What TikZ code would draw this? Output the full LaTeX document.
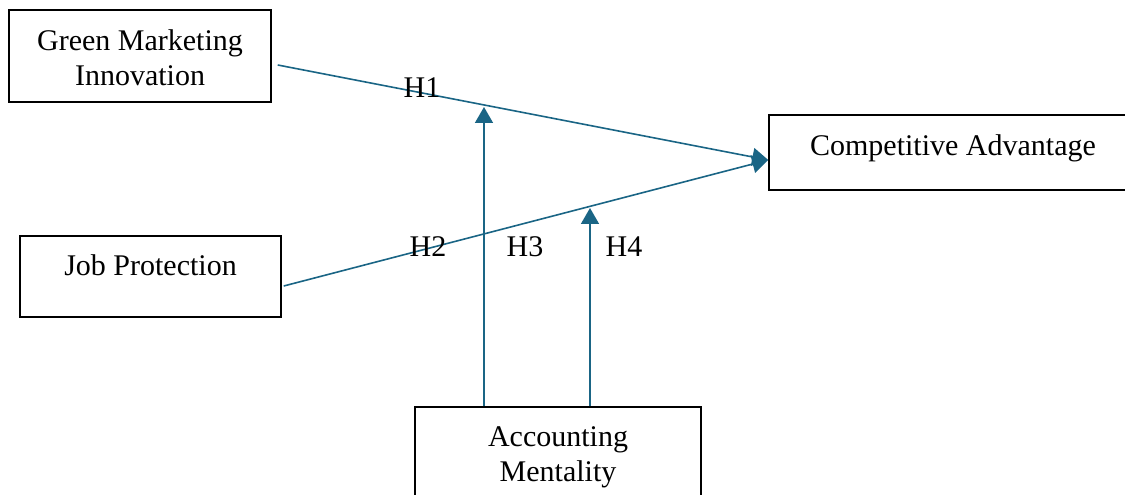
\documentclass[tikz,border=0pt]{standalone}
\usepackage{fontspec}
\setmainfont{Liberation Serif}
\usetikzlibrary{arrows.meta}
\definecolor{linkblue}{RGB}{26,101,133}
\tikzset{
  box/.style={draw=black, line width=1.1pt, inner sep=0pt, align=center,
    font=\fontsize{22.5}{26.3}\selectfont},
  link/.style={draw=linkblue, line width=1.2pt},
  arrowlink/.style={link, -{Triangle[length=12pt,width=13.5pt]}},
  hlabel/.style={inner sep=0pt, font=\fontsize{22.5}{26.3}\selectfont}
}
\begin{document}
\begin{tikzpicture}[x=0.75pt,y=-0.75pt]
\useasboundingbox (0,0) rectangle (1125,495);
% boxes
\node[box, minimum width=262*0.75pt, minimum height=92*0.75pt] (gmi) at (140,56)
  {\rule{0pt}{18.5pt}Green Marketing\\Innovation};
\node[box, minimum width=368*0.75pt, minimum height=75*0.75pt] (ca) at (953,152.5)
  {\raisebox{-2.5pt}[0pt][0pt]{Competitive Advantage}};
\node[box, minimum width=261*0.75pt, minimum height=81*0.75pt] (jp) at (150.5,276.5)
  {\raisebox{0.5pt}[0pt][0pt]{Job Protection}};
\node[box, minimum width=286*0.75pt, minimum height=100*0.75pt] (am) at (558,457)
  {Accounting\\Mentality};
% tips on the paths
\coordinate (t1) at (484,107);
\coordinate (t2) at (590,208);
% main paths
\draw[arrowlink] ([shift={(6,9)}]gmi.east) -- ([yshift=-7.5*0.75pt]ca.west);
\draw[arrowlink] ([shift={(2,9.5)}]jp.east) -- ([yshift=-7.5*0.75pt]ca.west);
% moderating paths
\draw[arrowlink] (am.north -| t1) -- (t1);
\draw[arrowlink] (am.north -| t2) -- (t2);
% labels
\node[hlabel] (h1) at (422,88) {H1};
\node[hlabel] (h2) at (428,247) {H2};
\node[hlabel] (h3) at (525,247) {H3};
\node[hlabel] (h4) at (624,247) {H4};
\end{tikzpicture}
\end{document}
